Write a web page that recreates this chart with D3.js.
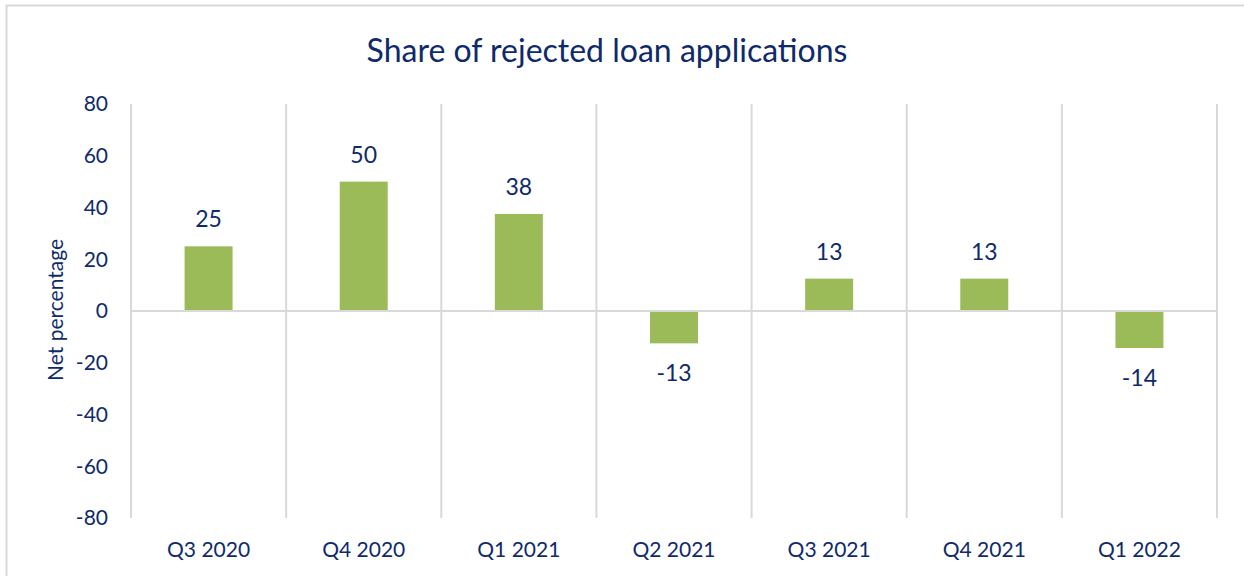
<!DOCTYPE html>
<html>
<head>
<meta charset="utf-8">
<style>
  body { margin: 0; background: #fff; }
  text { font-family: Lato, "Open Sans", sans-serif; fill: #0e2a6b; }
</style>
</head>
<body>
<div id="chart"></div>
<script src="https://d3js.org/d3.v7.min.js"></script>
<script>
// data
var quarters = ["Q3 2020", "Q4 2020", "Q1 2021", "Q2 2021", "Q3 2021", "Q4 2021", "Q1 2022"];
var netValues = [25, 50, 37.5, -12.5, 12.5, 12.5, -14.3];
var yTicks = [-80, -60, -40, -20, 0, 20, 40, 60, 80];

var W = 1244, H = 576;
var plotL = 131, plotR = 1217, plotT = 104, plotB = 518;

var svg = d3.select("#chart").append("svg")
    .attr("width", W)
    .attr("height", H);

// outer frame
svg.append("rect")
    .attr("x", 6.5).attr("y", 5.5)
    .attr("width", W).attr("height", H)
    .attr("fill", "none")
    .attr("stroke", "#d9d9d9")
    .attr("stroke-width", 2);

var x = d3.scaleBand()
    .domain(quarters)
    .range([plotL, plotR])
    .paddingInner(0)
    .paddingOuter(0);

var y = d3.scaleLinear()
    .domain([-80, 80])
    .range([plotB, plotT]);

var data = quarters.map(function(q, i) { return {q: q, v: netValues[i]}; });

// vertical category gridlines
var bounds = quarters.map(function(q) { return x(q); }).concat([plotR]);
svg.append("g")
    .selectAll("line")
    .data(bounds)
    .enter().append("line")
      .attr("x1", function(d) { return d; })
      .attr("x2", function(d) { return d; })
      .attr("y1", plotT)
      .attr("y2", plotB)
      .attr("stroke", "#d9d9d9")
      .attr("stroke-width", 2);

// bars
var barW = 48;
svg.append("g")
    .selectAll("rect")
    .data(data)
    .enter().append("rect")
      .attr("x", function(d) { return x(d.q) + x.bandwidth() / 2 - barW / 2; })
      .attr("y", function(d) { return y(Math.max(0, d.v)); })
      .attr("width", barW)
      .attr("height", function(d) { return Math.abs(y(d.v) - y(0)); })
      .attr("fill", "#9bbb59");

// zero line
svg.append("line")
    .attr("x1", plotL).attr("x2", plotR)
    .attr("y1", y(0)).attr("y2", y(0))
    .attr("stroke", "#d9d9d9")
    .attr("stroke-width", 2);

// value labels (plain hyphen for minus, like the original)
var fmt = d3.formatLocale({decimal: ".", thousands: ",", grouping: [3], currency: ["", ""], minus: "-"}).format(".0f");
svg.append("g")
    .selectAll("text")
    .data(data)
    .enter().append("text")
      .attr("x", function(d) { return x(d.q) + x.bandwidth() / 2; })
      .attr("y", function(d) { return d.v >= 0 ? y(d.v) - 19 : y(d.v) + 38; })
      .attr("text-anchor", "middle")
      .attr("font-size", 23)
      .text(function(d) { return fmt(d.v); });

// y axis labels
svg.append("g")
    .selectAll("text")
    .data(yTicks)
    .enter().append("text")
      .attr("x", 108)
      .attr("y", function(d) { return y(d); })
      .attr("dy", "0.35em")
      .attr("text-anchor", "end")
      .attr("font-size", 21)
      .text(function(d) { return d; });

// x axis labels
svg.append("g")
    .selectAll("text")
    .data(quarters)
    .enter().append("text")
      .attr("x", function(d) { return x(d) + x.bandwidth() / 2; })
      .attr("y", 557)
      .attr("text-anchor", "middle")
      .attr("font-size", 21)
      .text(function(d) { return d; });

// y title
svg.append("text")
    .attr("transform", "translate(63,310) rotate(-90)")
    .attr("text-anchor", "middle")
    .attr("font-size", 21)
    .text("Net percentage");

// title
svg.append("text")
    .attr("x", 607)
    .attr("y", 62)
    .attr("text-anchor", "middle")
    .attr("font-size", 32)
    .text("Share of rejected loan applications");
</script>
</body>
</html>
